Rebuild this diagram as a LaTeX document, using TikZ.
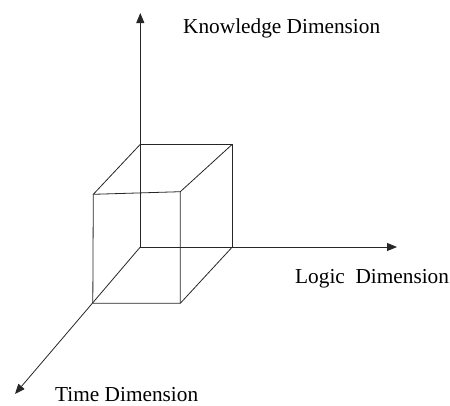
\documentclass[tikz,border=0pt]{standalone}
\usepackage{fontspec}
\setmainfont{Liberation Serif}
\usetikzlibrary{arrows.meta}
\begin{document}
\begin{tikzpicture}[x=1pt,y=-1pt,
  edge/.style={line width=0.8pt,draw=black!85},
  axis/.style={edge,-{Triangle[length=10pt,width=8pt]}},
  lbl/.style={anchor=base west,inner sep=0pt,font=\fontsize{21.3}{25}\selectfont}]
\useasboundingbox (0,0) rectangle (450,405);
% axes
\coordinate (O) at (140.3,247);
\coordinate (K) at (140.3,13);
\coordinate (L) at (397,247);
\coordinate (T) at (15,394);
% cube corners
\coordinate (btl) at (140.3,144.3);
\coordinate (btr) at (232.3,144.3);
\coordinate (bbr) at (232.3,247);
\coordinate (ftl) at (93.3,194.3);
\coordinate (ftr) at (180.3,191.7);
\coordinate (fbl) at (92.8,303.3);
\coordinate (fbr) at (180.3,303.3);
\draw[axis] (O) -- (K);
\draw[axis] (O) -- (L);
\draw[axis] (O) -- (T);
\draw[edge] (btl) -- (btr) -- (bbr);
\draw[edge] (btl) -- (ftl) -- (ftr) -- (btr);
\draw[edge] (ftl) -- (fbl) -- (fbr) -- (ftr);
\draw[edge] (fbr) -- (bbr);
% labels
\node[lbl] (kl) at (183,33) {Knowledge Dimension};
\node[lbl] (ll) at (295,283) {Logic\ \ Dimension};
\node[lbl] (tl) at (55,401) {Time Dimension};
\end{tikzpicture}
\end{document}
